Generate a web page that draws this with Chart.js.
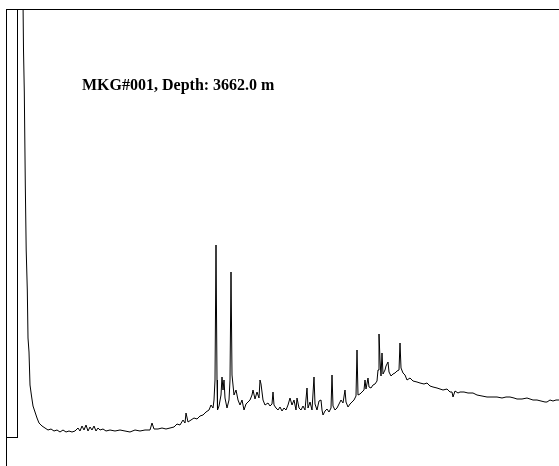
<!DOCTYPE html>
<html>
<head>
<meta charset="utf-8">
<script src="https://cdn.jsdelivr.net/npm/chart.js@4/dist/chart.umd.min.js"></script>
<style>
  html, body { margin: 0; padding: 0; background: #fff; }
  #wrap { position: relative; width: 559px; height: 466px; overflow: hidden; }
  #c { position: absolute; left: 0; top: 0; }
  #frame { position: absolute; left: 6px; top: 9px; width: 553px; height: 457px;
           border-left: 1px solid #000; border-top: 1px solid #000; box-sizing: border-box; pointer-events: none; }
  #label { position: absolute; left: 82px; top: 76px; font-family: "Liberation Serif", "Times New Roman", serif;
           font-weight: bold; font-size: 16px; line-height: 18px; color: #000; white-space: nowrap; }
</style>
</head>
<body>
<div id="wrap">
  <canvas id="c" width="559" height="466"></canvas>
  <div id="frame"></div>
  <div id="label"></div>
</div>
<script>
const chartTitle = "MKG#001, Depth: 3662.0 m";

// Scan number (x) and detector response (y)
const scans = [5.5,6.5,7.3,8.3,9.2,10.3,11,12,13,14.5,16,18,20,22,25,28,
  31,34,37,40,43,46,49,52,55,58,61,63,65,67,69,71,73,75,77,79,81,83,86,89,93,98,103,108,113,118,123,128,133,135,137,141,145,149,153,157,160,163,166,168,169,171,174,177,180,183,186,189,192,194,196,197,198,199,200,200.5,
  202,204,205,206,207,208,210,212,213,214,215,216,217,219,221,223,225,227,229,231,233,235,236,238,240,242,243,244,246,248,251,253,255,256,257,259,261,263,265,267,269,271,273,275,277,279,280,282,284,286,288,290,291,293,295,297,298,300,302,304,305,306,308,310,312,314,315,316,318,320,322,324,326,328,329,331,333,335,337,339,340,341,343,345,347,348,349,351,352,354,356,358,360,361,362,363,364,365,366,368,369,371,372,374,376,378,380,382,383,384,386,388,390,393,396,400,403,407,410,413,416,420,423,426,430,433,435,436,438,441,443,447,451,456,460,465,470,475,480,485,489,493,497,500,505,510,516,520,524,528,530,533,536,539,542];
const intensity = [487,387,345,252,187,147,99,85,52,41,31,25,19,14,11,9,
  7,8,6,7,5,7,5,6,5,6,9,6,11,7,12,6,10,7,11,6,9,7,8,6,7,6,7,6,5,7,6,7,7,14,8,8,9,8,9,10,13,12,17,14,24,15,17,19,18,21,22,25,27,32,29,37,57,192,57,27,
  31,42,60,47,57,39,29,37,57,165,62,52,42,47,37,32,37,27,33,35,37,42,47,38,45,39,57,53,37,32,34,31,33,45,32,29,27,30,26,29,27,32,39,32,37,27,39,29,27,31,27,49,29,35,27,60,33,27,36,37,27,22,26,28,25,29,62,31,27,29,33,37,34,47,35,30,33,35,37,41,87,42,43,45,47,57,48,59,50,49,52,53,56,67,103,77,61,84,63,67,71,75,65,61,63,64,66,67,94,69,64,62,57,59,56,55,54,53,54,51,50,49,48,47,48,45,45,40,46,44,45,45,44,44,42,41,40,40,40,39,40,40,39,38,38,39,37,37,36,35,35,37,36,37,37];

document.getElementById('label').textContent = chartTitle;

const points = scans.map((s, i) => ({ x: s, y: intensity[i] }));

new Chart(document.getElementById('c'), {
  type: 'line',
  data: { datasets: [{ data: points, borderColor: '#000', borderWidth: 1, pointRadius: 0, tension: 0, fill: false }] },
  options: {
    responsive: false, animation: false,
    layout: { padding: { top: 9, bottom: 29, left: 0, right: 0 } },
    plugins: { legend: { display: false }, tooltip: { enabled: false } },
    scales: {
      x: { type: 'linear', min: 0, max: 542, display: false },
      y: {
        min: 0, max: 428,
        afterFit: (s) => { s.width = 17; },
        afterBuildTicks: (s) => { s.ticks = [{ value: 0 }]; },
        ticks: { display: false },
        grid: { drawOnChartArea: false, drawTicks: true, tickLength: 11, color: '#000', lineWidth: 1 },
        border: { display: true, color: '#000', width: 1 }
      }
    }
  }
});
</script>
</body>
</html>
